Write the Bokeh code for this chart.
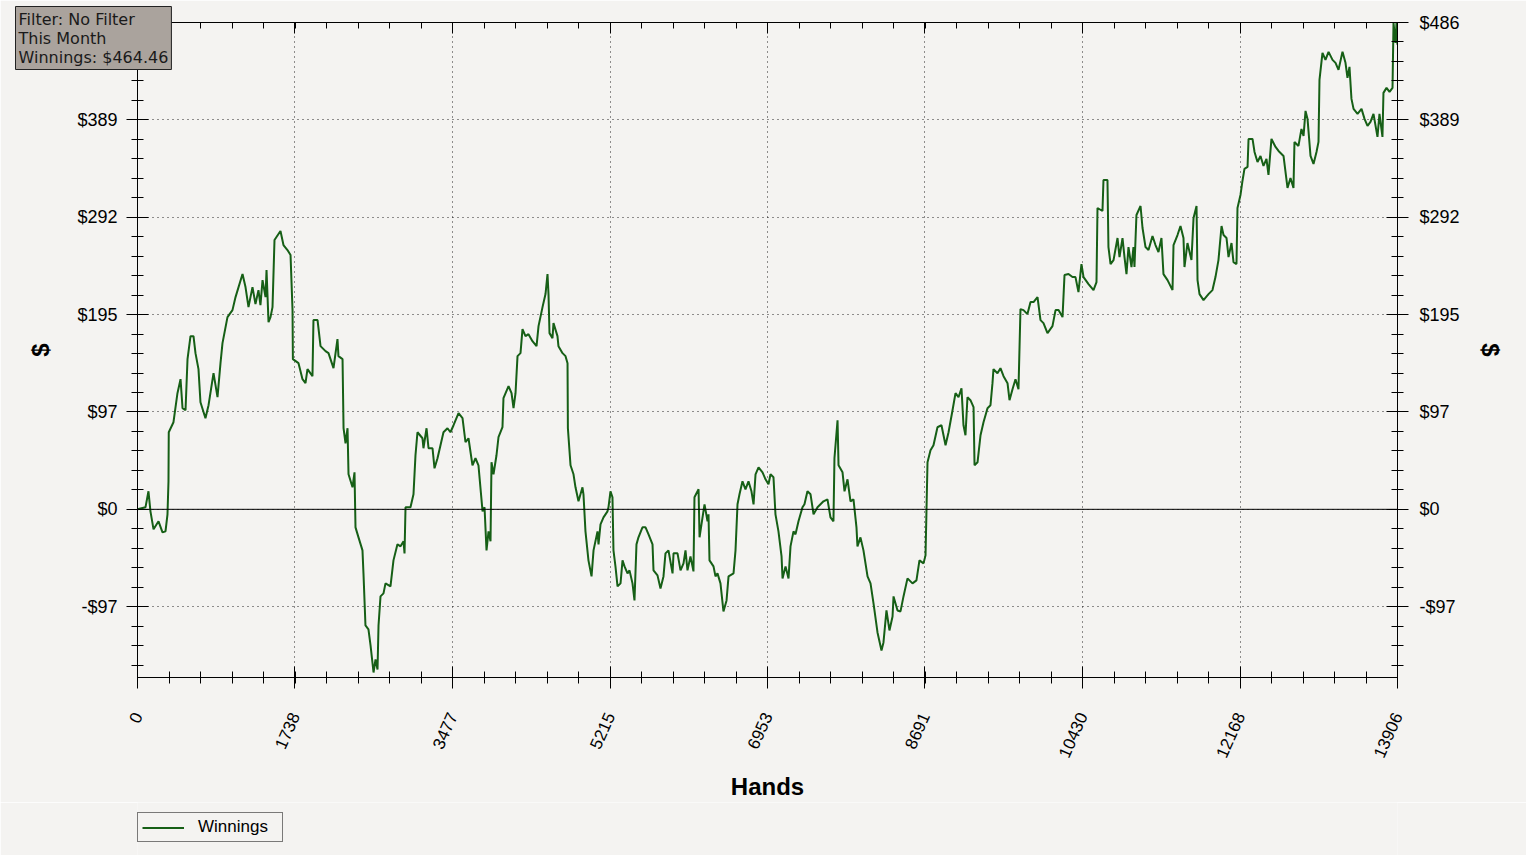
import math
from bokeh.plotting import figure
from bokeh.layouts import column
from bokeh.models import (LinearAxis, FixedTicker, CustomJSTickFormatter, Span, Label,
                          Legend, LegendItem, Range1d, Grid)
from bokeh.embed import file_html
from bokeh.resources import INLINE

# ---------------- data ----------------
hands = [
    0, 88, 121, 143, 177, 232, 276, 309, 331, 342,
    345, 397, 441, 475, 497, 530, 552, 585, 618, 640,
    673, 695, 750, 784, 839, 883, 916, 938, 993, 1048,
    1082, 1159, 1192, 1225, 1269, 1302, 1335, 1357, 1380, 1413,
    1424, 1446, 1468, 1490, 1512, 1578, 1611, 1655, 1689, 1711,
    1715, 1777, 1821, 1854, 1876, 1931, 1942, 1987, 2020, 2075,
    2108, 2163, 2207, 2218, 2263, 2274, 2296, 2318, 2329, 2373,
    2395, 2406, 2439, 2483, 2494, 2516, 2549, 2572, 2605, 2627,
    2649, 2660, 2682, 2715, 2737, 2792, 2825, 2869, 2903, 2936,
    2947, 2958, 3013, 3046, 3068, 3090, 3145, 3156, 3190, 3212,
    3256, 3278, 3311, 3344, 3377, 3421, 3454, 3488, 3543, 3587,
    3620, 3653, 3697, 3730, 3763, 3808, 3830, 3852, 3874, 3896,
    3907, 3929, 3962, 3984, 4028, 4039, 4095, 4128, 4150, 4172,
    4194, 4227, 4249, 4282, 4315, 4359, 4404, 4426, 4470, 4503,
    4525, 4536, 4547, 4580, 4591, 4635, 4646, 4691, 4724, 4746,
    4750, 4779, 4812, 4834, 4867, 4911, 4922, 4944, 4977, 5011,
    5033, 5077, 5088, 5110, 5143, 5187, 5198, 5220, 5242, 5253,
    5275, 5298, 5331, 5353, 5375, 5408, 5430, 5463, 5485, 5507,
    5529, 5573, 5607, 5640, 5684, 5695, 5739, 5772, 5805, 5827,
    5860, 5905, 5916, 5960, 5993, 6026, 6048, 6070, 6103, 6136,
    6147, 6192, 6203, 6236, 6258, 6291, 6302, 6313, 6357, 6379,
    6401, 6434, 6467, 6501, 6523, 6578, 6600, 6622, 6644, 6677,
    6710, 6743, 6776, 6799, 6821, 6854, 6898, 6931, 6964, 6986,
    7019, 7041, 7074, 7108, 7119, 7152, 7185, 7207, 7240, 7262,
    7295, 7339, 7361, 7394, 7428, 7461, 7505, 7538, 7571, 7615,
    7648, 7681, 7692, 7726, 7737, 7781, 7803, 7836, 7869, 7902,
    7935, 7946, 7979, 8012, 8057, 8090, 8123, 8167, 8211, 8233,
    8266, 8299, 8333, 8344, 8388, 8421, 8454, 8498, 8553, 8597,
    8630, 8675, 8697, 8719, 8752, 8785, 8829, 8873, 8918, 8951,
    8995, 9028, 9061, 9094, 9116, 9138, 9160, 9193, 9227, 9238,
    9271, 9304, 9337, 9381, 9414, 9436, 9447, 9491, 9524, 9558,
    9602, 9624, 9657, 9690, 9723, 9745, 9778, 9822, 9856, 9889,
    9933, 9966, 9999, 10043, 10098, 10132, 10165, 10209, 10231, 10275,
    10319, 10352, 10385, 10418, 10441, 10496, 10551, 10584, 10595, 10650,
    10661, 10705, 10716, 10739, 10772, 10816, 10838, 10871, 10893, 10915,
    10937, 10970, 10992, 11003, 11025, 11070, 11092, 11125, 11158, 11202,
    11235, 11268, 11301, 11323, 11368, 11423, 11434, 11478, 11511, 11544,
    11555, 11588, 11632, 11655, 11688, 11699, 11721, 11765, 11820, 11864,
    11897, 11930, 11964, 11986, 12019, 12041, 12074, 12096, 12129, 12140,
    12173, 12195, 12217, 12251, 12262, 12306, 12328, 12361, 12394, 12427,
    12460, 12482, 12515, 12560, 12593, 12648, 12692, 12725, 12758, 12769,
    12813, 12846, 12869, 12891, 12913, 12946, 12979, 13012, 13034, 13045,
    13078, 13111, 13145, 13189, 13222, 13255, 13299, 13332, 13354, 13376,
    13398, 13421, 13465, 13509, 13542, 13575, 13608, 13641, 13685, 13707,
    13740, 13751, 13785, 13818, 13851, 13862, 13884, 13895, 13906,
]

winnings = [
    0, 2, 18, -2, -20, -12, -23, -22, -5, 28,
    77, 87, 116, 130, 101, 99, 150, 173, 173, 156,
    140, 107, 91, 104, 136, 112, 146, 166, 192, 199,
    212, 235, 222, 202, 222, 205, 219, 204, 229, 212,
    239, 187, 192, 202, 269, 278, 264, 259, 254, 199,
    150, 146, 130, 126, 140, 133, 189, 189, 163, 158,
    156, 141, 170, 153, 150, 81, 66, 81, 35, 22,
    37, -18, -28, -41, -64, -116, -120, -136, -163, -150,
    -160, -116, -87, -84, -74, -77, -51, -35, -37, -32,
    -44, 2, 2, 15, 54, 77, 71, 61, 81, 61,
    61, 41, 51, 64, 77, 81, 77, 84, 96, 91,
    67, 71, 44, 51, 44, -2, 2, -41, -22, -32,
    47, 35, 54, 72, 82, 111, 123, 116, 101, 116,
    153, 156, 180, 173, 175, 168, 163, 183, 202, 215,
    235, 215, 176, 171, 186, 173, 163, 156, 153, 146,
    81, 44, 35, 22, 8, 22, 15, -22, -51, -67,
    -41, -22, -35, -15, -8, -2, 2, 18, 12, -41,
    -57, -77, -74, -51, -57, -64, -61, -74, -91, -35,
    -28, -18, -18, -25, -35, -61, -66, -79, -67, -44,
    -41, -64, -44, -44, -61, -54, -41, -61, -47, -62,
    12, 20, -28, -8, 5, -12, -5, -51, -57, -67,
    -64, -74, -102, -91, -67, -64, -41, 5, 15, 28,
    20, 28, 18, 5, 35, 42, 37, 30, 25, 35,
    32, -5, -22, -47, -69, -57, -69, -37, -22, -25,
    -12, 2, 5, 18, 15, -5, 2, 5, 8, 10,
    -8, -12, 51, 89, 44, 37, 18, 30, 8, 10,
    -18, -37, -28, -41, -67, -74, -94, -123, -141, -133,
    -101, -121, -107, -87, -101, -102, -87, -69, -74, -71,
    -51, -54, -46, 47, 59, 64, 82, 84, 64, 77,
    99, 116, 112, 121, 84, 74, 112, 109, 102, 44,
    47, 74, 87, 101, 104, 126, 140, 136, 141, 133,
    126, 109, 120, 130, 120, 200, 199, 195, 207, 207,
    212, 189, 186, 176, 183, 199, 199, 192, 234, 235,
    232, 232, 217, 245, 232, 225, 219, 227, 301, 298,
    329, 329, 262, 245, 249, 271, 252, 271, 252, 235,
    262, 242, 262, 242, 294, 303, 281, 262, 259, 273,
    264, 257, 271, 235, 229, 219, 264, 274, 283, 271,
    242, 266, 249, 291, 303, 229, 215, 209, 215, 219,
    232, 249, 283, 274, 271, 252, 266, 247, 245, 301,
    314, 328, 340, 342, 370, 370, 357, 347, 353, 343,
    350, 334, 370, 362, 358, 353, 321, 331, 321, 367,
    363, 380, 373, 398, 390, 353, 345, 357, 367, 429,
    456, 449, 457, 449, 446, 439, 457, 446, 431, 442,
    410, 400, 395, 400, 390, 383, 387, 395, 372, 395,
    372, 416, 421, 417, 421, 486, 466, 486, 464,
]

x_tick_values = [0, 1738, 3477, 5215, 6953, 8691, 10430, 12168, 13906]
x_tick_labels = ["0", "1738", "3477", "5215", "6953", "8691", "10430", "12168", "13906"]
y_tick_values = [-97.26, 0, 97.26, 194.52, 291.78, 389.04, 486.3]
y_tick_labels = ["-$97", "$0", "$97", "$195", "$292", "$389", "$486"]
info_lines = ["Filter: No Filter", "This Month", "Winnings: $464.46"]
series_name = "Winnings"
x_title = "Hands"
y_title = "$"

# ---------------- style ----------------
BG = "#f4f3f1"
GREEN = "#165f16"
BOXBG = "#aaa39d"
FONT = "Liberation Sans"
X_MAX = 13906

n = min(len(hands), len(winnings))
hands = hands[:n]
winnings = winnings[:n]

p = figure(width=1526, height=802, output_backend="svg", toolbar_location=None,
           x_range=Range1d(0, X_MAX), y_range=Range1d(-168, 486.3),
           x_axis_location=None, y_axis_location=None,
           min_border_left=137, min_border_right=129, min_border_top=22, min_border_bottom=117,
           background_fill_color=BG, border_fill_color=BG, outline_line_color=None)
for g in list(p.grid):
    g.visible = False

x_step = X_MAX / 40.0
x_minor = [i * x_step for i in range(41)]
y_minor = [-97.26 - 4 * 19.452 + i * 19.452 for i in range(35)]
xt = FixedTicker(ticks=x_tick_values, minor_ticks=x_minor)
yt = FixedTicker(ticks=y_tick_values, minor_ticks=y_minor)

lookup_code = """
let best = 0;
for (let i = 0; i < vals.length; i++) {
  if (Math.abs(vals[i] - tick) < Math.abs(vals[best] - tick)) best = i;
}
return labs[best];
"""
xfmt = CustomJSTickFormatter(args=dict(vals=x_tick_values, labs=x_tick_labels), code=lookup_code)
yfmt = CustomJSTickFormatter(args=dict(vals=y_tick_values, labs=y_tick_labels), code=lookup_code)
blank = CustomJSTickFormatter(code="return '';")

def style_axis(ax, tin, tout, mtin, mtout):
    ax.axis_line_color = "black"
    ax.axis_line_width = 1
    ax.major_tick_line_color = "black"
    ax.minor_tick_line_color = "black"
    ax.major_tick_in = tin
    ax.major_tick_out = tout
    ax.minor_tick_in = mtin
    ax.minor_tick_out = mtout
    ax.major_label_text_font = FONT
    ax.major_label_text_color = "black"
    ax.axis_label_text_font = FONT
    ax.axis_label_text_font_style = "bold"
    ax.axis_label_text_color = "black"

# bottom axis
xb = LinearAxis(ticker=xt, formatter=xfmt, axis_label=x_title)
style_axis(xb, 11, 11, 6, 6)
xb.major_label_orientation = math.radians(66)
xb.major_label_text_font_size = "17px"
xb.major_label_standoff = 25
xb.axis_label_text_font_size = "24px"
xb.axis_label_standoff = 8
p.add_layout(xb, "below")

# top axis (ticks only)
xa = LinearAxis(ticker=xt, formatter=blank)
style_axis(xa, 11, 0, 6, 0)
xa.major_label_text_font_size = "0px"
xa.major_label_standoff = 0
p.add_layout(xa, "above")

# left axis
yl = LinearAxis(ticker=yt, formatter=yfmt, axis_label=y_title)
style_axis(yl, 11, 11, 6, 6)
yl.major_label_text_font_size = "18px"
yl.major_label_standoff = 9
yl.axis_label_text_font_size = "24px"
yl.axis_label_standoff = 20
p.add_layout(yl, "left")

# right axis
yr = LinearAxis(ticker=yt, formatter=yfmt, axis_label=y_title)
style_axis(yr, 11, 11, 6, 6)
yr.major_label_text_font_size = "18px"
yr.major_label_standoff = 11
yr.axis_label_text_font_size = "24px"
yr.axis_label_standoff = 14
p.add_layout(yr, "right")

# dotted grids
gx = Grid(dimension=0, ticker=xt, grid_line_color="black", grid_line_dash="1 4", grid_line_alpha=0.85)
gy = Grid(dimension=1, ticker=yt, grid_line_color="black", grid_line_dash="1 4", grid_line_alpha=0.85)
p.add_layout(gx)
p.add_layout(gy)

# zero line
p.add_layout(Span(location=0, dimension="width", line_color="black", line_width=1))

r = p.line(hands, winnings, line_color=GREEN, line_width=2)

# info box (top-left, overlapping the axis) drawn as the figure's title
info_text = "\n".join(info_lines)
info_done = False
try:
    t = p.title
    t.text = info_text
    t.align = "left"
    t.vertical_align = "bottom"
    t.offset = -122
    t.standoff = -94
    t.text_font = "DejaVu Sans"
    t.text_font_size = "16px"
    t.text_font_style = "normal"
    t.text_color = "#1a1a1a"
    t.background_fill_color = BOXBG
    t.background_fill_alpha = 1
    t.border_line_color = "#222222"
    t.border_line_width = 1
    try:
        t.padding = 3
    except Exception:
        pass
    info_done = True
except Exception:
    p.title.text = ""
if not info_done:
    p.add_layout(Label(x=4, y=659, x_units="screen", y_units="screen", text=info_text,
                       text_font="DejaVu Sans", text_font_size="16px", text_color="#1a1a1a",
                       text_align="left", text_baseline="top",
                       background_fill_color=BOXBG, background_fill_alpha=1,
                       border_line_color="#222222", border_line_width=1))

# legend strip under the chart
q = figure(width=1526, height=53, output_backend="svg", toolbar_location=None,
           x_range=Range1d(0, 1), y_range=Range1d(0, 1),
           x_axis_location=None, y_axis_location=None,
           min_border=0, min_border_left=0, min_border_right=0, min_border_top=0, min_border_bottom=0,
           background_fill_color=BG, border_fill_color=BG, outline_line_color=None)
for g in list(q.grid):
    g.visible = False
ql = q.line([-5, -4], [-5, -4], line_color=GREEN, line_width=2)
legend = Legend(items=[LegendItem(label=series_name, renderers=[ql])], location=(0, 13),
                orientation="horizontal", background_fill_color=BG, background_fill_alpha=1,
                border_line_color="black", border_line_width=1,
                label_text_font=FONT, label_text_font_size="17px", label_text_color="black",
                glyph_width=42, glyph_height=15, label_standoff=14, label_width=80, label_height=15,
                padding=4, margin=0, spacing=0)
q.add_layout(legend)

layout = column(p, q, spacing=0)
open("out.html", "w").write(file_html(layout, INLINE))
